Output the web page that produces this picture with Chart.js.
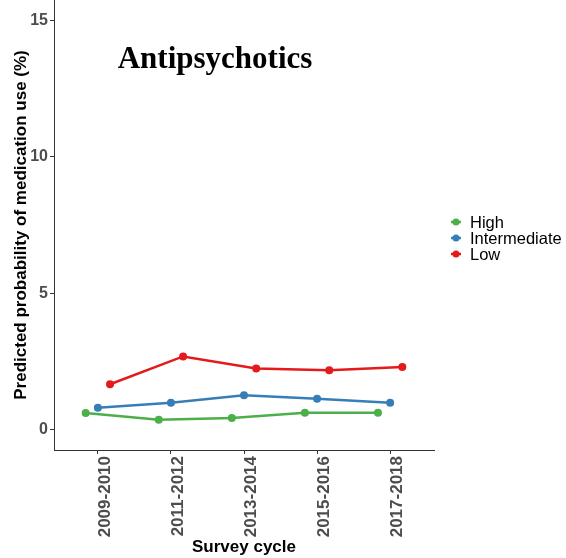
<!DOCTYPE html>
<html>
<head>
<meta charset="utf-8">
<script src="https://cdn.jsdelivr.net/npm/chart.js@4.4.1/dist/chart.umd.min.js"></script>
<style>
  html, body { margin: 0; padding: 0; background: #fff; }
  #chart { display: block; }
</style>
</head>
<body>
<canvas id="chart" width="566" height="558"></canvas>
<script>
// --- data ---
const cycles = ['2009-2010', '2011-2012', '2013-2014', '2015-2016', '2017-2018'];
const highVals = [0.61, 0.36, 0.42, 0.62, 0.62];
const intermediateVals = [0.80, 0.98, 1.26, 1.13, 0.98];
const lowVals = [1.66, 2.68, 2.24, 2.17, 2.29];
const yTicks = [0, 5, 10, 15];
const groupNames = ['High', 'Intermediate', 'Low'];
const groupColors = ['#4daf4a', '#377eb8', '#e41a1c'];

// ggplot-style dodge: groups spread across this width around each category
const DODGE = 0.5;

const groups = [highVals, intermediateVals, lowVals];
const datasets = groups.map((vals, g) => {
    const shift = (g - (groups.length - 1) / 2) * DODGE / groups.length;
    return {
        label: groupNames[g],
        data: vals.map((v, i) => ({ x: i + 1 + shift, y: v })),
        borderColor: groupColors[g],
        backgroundColor: groupColors[g],
        borderWidth: 2.5,
        pointRadius: 4,
        pointBorderWidth: 0,
        tension: 0
    };
});

// title written inside the panel
const panelTitle = {
    id: 'panelTitle',
    afterDraw(chart) {
        const { ctx, chartArea } = chart;
        ctx.save();
        ctx.font = 'bold 31px "Liberation Serif", "Times New Roman", serif';
        ctx.fillStyle = '#000';
        ctx.textAlign = 'center';
        ctx.textBaseline = 'alphabetic';
        ctx.fillText('Antipsychotics', chartArea.left + 161, chartArea.top + 68);
        ctx.restore();
    }
};

// legend on the right, line + point keys
const sideLegend = {
    id: 'sideLegend',
    afterDraw(chart) {
        const { ctx, chartArea } = chart;
        const x0 = chartArea.right + 17;
        const y0 = 222;
        ctx.save();
        ctx.font = '16.5px "Liberation Sans", Arial, sans-serif';
        ctx.textBaseline = 'middle';
        ctx.textAlign = 'left';
        groupNames.forEach((name, i) => {
            const y = y0 + i * 16;
            ctx.strokeStyle = groupColors[i];
            ctx.fillStyle = groupColors[i];
            ctx.lineWidth = 2.5;
            ctx.beginPath();
            ctx.moveTo(x0, y);
            ctx.lineTo(x0 + 10, y);
            ctx.stroke();
            ctx.beginPath();
            ctx.arc(x0 + 5, y, 3.5, 0, Math.PI * 2);
            ctx.fill();
            ctx.fillStyle = '#000';
            ctx.fillText(name, x0 + 19, y + 1);
        });
        ctx.restore();
    }
};

const axisColor = '#333333';
const tickColor = '#4d4d4d';

new Chart(document.getElementById('chart'), {
    type: 'line',
    data: { datasets },
    options: {
        responsive: false,
        animation: false,
        devicePixelRatio: 1,
        layout: { autoPadding: false, padding: { top: 0, right: 132, left: 0, bottom: 0 } },
        plugins: { legend: { display: false }, tooltip: { enabled: false } },
        scales: {
            x: {
                type: 'linear',
                min: 0.4,
                max: 5.6,
                afterBuildTicks: s => { s.ticks = cycles.map((_, i) => ({ value: i + 1 })); },
                afterFit: s => { s.height = 108; s.paddingLeft = 0; s.paddingRight = 0; },
                ticks: {
                    callback: v => cycles[v - 1],
                    minRotation: 90,
                    maxRotation: 90,
                    autoSkip: false,
                    labelOffset: 7,
                    padding: 2,
                    color: tickColor,
                    font: { family: '"Liberation Sans", Arial, sans-serif', size: 17, weight: 'bold' }
                },
                grid: { drawOnChartArea: false, drawTicks: true, tickLength: 4, color: axisColor },
                border: { display: true, color: axisColor, width: 1 },
                title: {
                    display: true,
                    text: 'Survey cycle',
                    color: '#000',
                    padding: { top: 0, bottom: 0 },
                    font: { family: '"Liberation Sans", Arial, sans-serif', size: 17, weight: 'bold' }
                }
            },
            y: {
                min: -0.75,
                max: 15.75,
                afterBuildTicks: s => { s.ticks = yTicks.map(v => ({ value: v })); },
                afterFit: s => { s.width = 54; s.paddingTop = 0; s.paddingBottom = 0; },
                ticks: {
                    padding: 2,
                    color: tickColor,
                    font: { family: '"Liberation Sans", Arial, sans-serif', size: 16, weight: 'bold' }
                },
                grid: { drawOnChartArea: false, drawTicks: true, tickLength: 4, color: axisColor },
                border: { display: true, color: axisColor, width: 1 },
                title: {
                    display: true,
                    text: 'Predicted probability of medication use (%)',
                    color: '#000',
                    padding: { top: 11, bottom: 0 },
                    font: { family: '"Liberation Sans", Arial, sans-serif', size: 17, weight: 'bold' }
                }
            }
        }
    },
    plugins: [panelTitle, sideLegend]
});
</script>
</body>
</html>
